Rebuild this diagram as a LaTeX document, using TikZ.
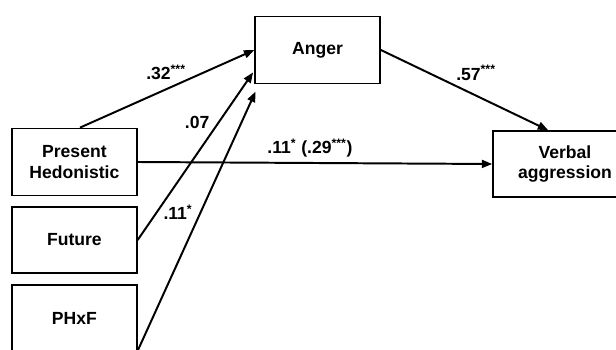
\documentclass[tikz,border=0pt]{standalone}
\usepackage{fontspec}
\setmainfont{Liberation Sans}
\usepackage{tikz}
\usetikzlibrary{arrows.meta, positioning, calc}
\tikzset{
  varbox/.style={draw, line width=1.1pt, minimum width=3.125cm, minimum height=1.68cm, align=center, font=\fontsize{12.5}{14.5}\selectfont\bfseries},
  effect/.style={-{Triangle[length=0.26cm, width=0.2cm]}, line width=1.4pt},
  coef/.style={font=\fontsize{12.5}{14.5}\selectfont\bfseries}
}

\begin{document}
\begin{tikzpicture}
    \useasboundingbox (0,0) rectangle (15.4,8.75);
    \clip (0,0) rectangle (15.4,8.75);
    % Boxes
    \node[varbox] (anger) at (7.94, 7.5) {Anger};
    \node[varbox] (ph) at (1.86, 4.7) {Present\\Hedonistic};
    \node[varbox, minimum height=1.65cm] (fut) at (1.86, 2.75) {Future};
    \node[varbox] (phxf) at (1.86, 0.79) {PHxF};
    \node[varbox, minimum width=3.6cm, minimum height=1.65cm] (verbal) at (14.125, 4.65) {Verbal\\aggression};
    % Arrow ends
    \coordinate (angerB) at ($(anger.south west)+(-0.03,0.3)$);
    \coordinate (angerC) at ($(anger.south west)+(0.03,-0.18)$);
    \coordinate (vtop) at ($(verbal.north west)+(1.4,0)$);
    % Paths
    \draw[effect] ($(ph.north)+(0.14,0)$) -- (anger.west);
    \draw[effect] (fut.east) -- (angerB);
    \draw[effect] ($(phxf.south east)+(0,0.05)$) -- (angerC);
    \draw[effect] (ph.east) -- (verbal.west);
    \draw[effect] (anger.east) -- (vtop);
    % Coefficients
    \node[coef] (b1) at (4.15, 6.95) {.32\textsuperscript{***}};
    \node[coef] (b2) at (4.93, 5.7) {.07};
    \node[coef] (b3) at (4.45, 3.45) {.11\textsuperscript{*}};
    \node[coef] (b4) at (7.75, 5.05) {.11\textsuperscript{*} (.29\textsuperscript{***})};
    \node[coef] (b5) at (11.9, 6.93) {.57\textsuperscript{***}};
\end{tikzpicture}
\end{document}
